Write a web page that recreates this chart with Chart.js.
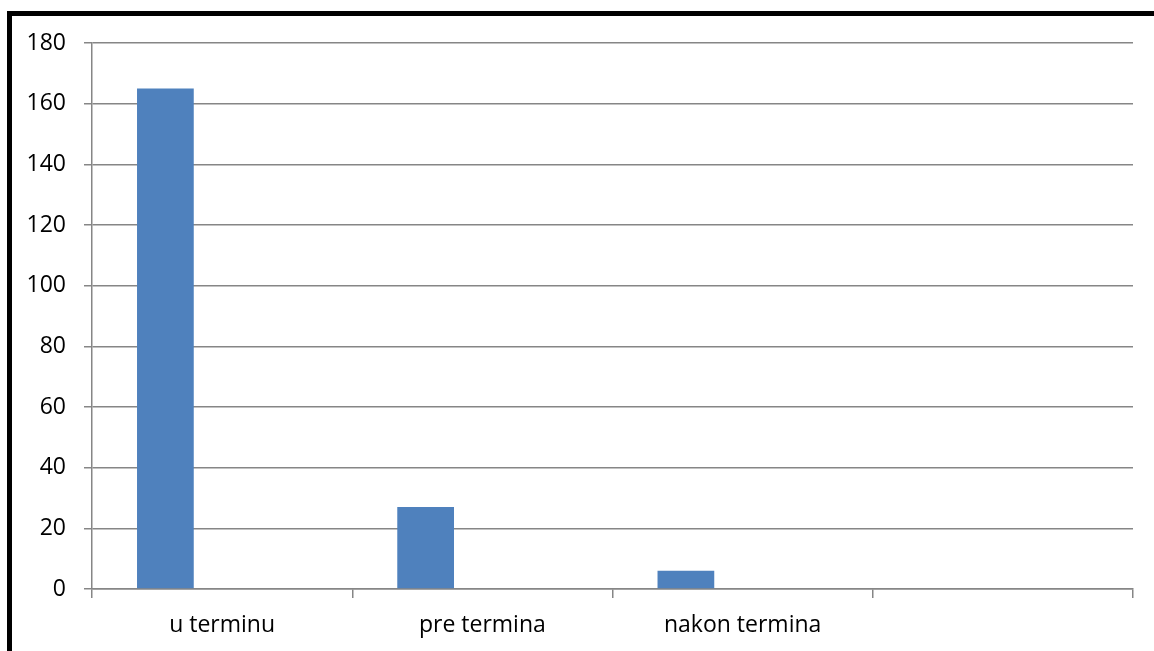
<html>
  <head>
    <script src="https://cdn.jsdelivr.net/npm/chart.js@4.4.0/dist/chart.umd.min.js"></script>
    <style>
      body { margin: 0; background: #fff; }
      #frame {
        position: absolute;
        left: 7px;
        top: 11px;
        right: 0;
        bottom: 0;
        border-top: 5px solid #000;
        border-left: 5px solid #000;
      }
      #myChart { position: absolute; left: 0; top: 0; }
    </style>
  </head>
  <body>
    <div id="frame"></div>
    <canvas id="myChart" width="1154" height="651"></canvas>
    <script>
      const categories = ["u terminu", "pre termina", "nakon termina", ""];
      const series1 = [165, 27, 6, null];
      const series2 = [null, null, null, null];
      const series3 = [null, null, null, null];
      const yTicks = { min: 0, max: 180, step: 20 };

      const gridGray = "#868686";
      const barBlue = "#4f81bd";

      const ctx = document.getElementById("myChart").getContext("2d");
      const chart = new Chart(ctx, {
        type: "bar",
        data: {
          labels: categories,
          datasets: [
            { data: series1, backgroundColor: barBlue },
            { data: series2, backgroundColor: "#c0504d" },
            { data: series3, backgroundColor: "#9bbb59" }
          ]
        },
        options: {
          responsive: false,
          animation: false,
          events: [],
          categoryPercentage: 0.654,
          barPercentage: 1,
          layout: { padding: { left: 0, right: 21, top: 43, bottom: 0 } },
          plugins: { legend: { display: false }, tooltip: { enabled: false } },
          scales: {
            x: {
              grid: {
                drawOnChartArea: false,
                color: gridGray,
                lineWidth: 1.5,
                tickLength: 9
              },
              border: { color: gridGray, width: 1.5 },
              ticks: {
                color: "#000",
                padding: 14,
                maxRotation: 0,
                font: { family: "Open Sans", size: 23 }
              },
              afterFit: scale => {
                scale.height = 62;
              }
            },
            y: {
              min: yTicks.min,
              max: yTicks.max,
              grid: { color: gridGray, lineWidth: 1.5, tickLength: 8 },
              border: { color: gridGray, width: 1.5 },
              ticks: {
                stepSize: yTicks.step,
                color: "#000",
                padding: 18,
                font: { family: "Open Sans", size: 23 }
              },
              afterFit: scale => {
                scale.width = 92;
              }
            }
          }
        }
      });
    </script>
  </body>
</html>
